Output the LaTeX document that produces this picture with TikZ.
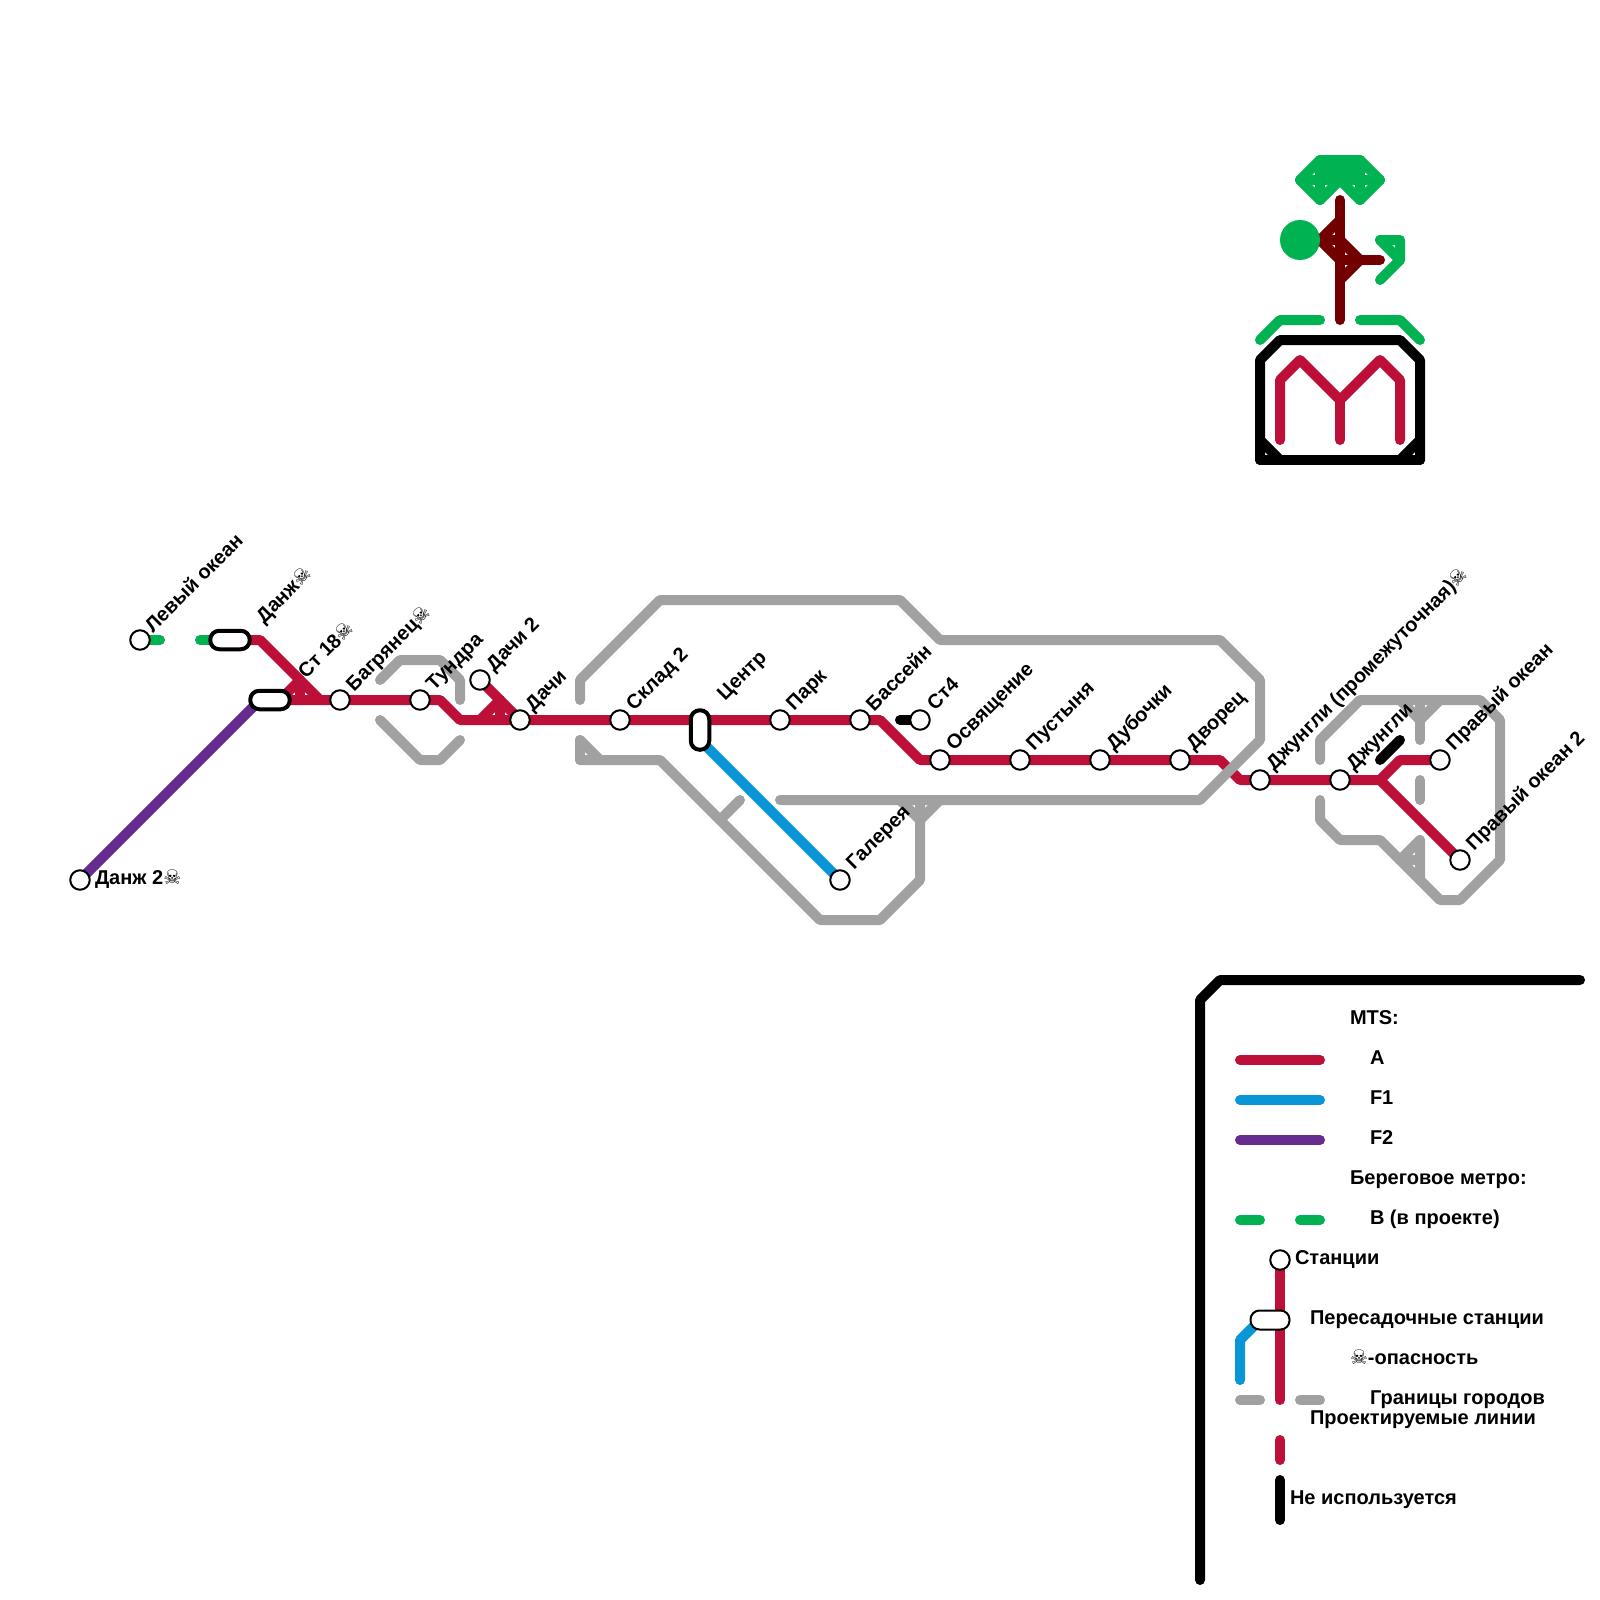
\documentclass[tikz,border=0pt]{standalone}
\usepackage{fontspec}
\setmainfont{Liberation Sans}
\newfontfamily\skullfont{DejaVu Sans}
\newcommand{\skl}{{\skullfont\mdseries ☠}}
\definecolor{lnA}{HTML}{BD1038}
\definecolor{lnF}{HTML}{0896D7}
\definecolor{lnP}{HTML}{662C90}
\definecolor{lnG}{HTML}{00B251}
\definecolor{lnD}{HTML}{730000}
\definecolor{lnB}{HTML}{A1A1A1}
\tikzset{
  every node/.style={font=\fontsize{20}{22}\selectfont\bfseries},
  mline/.style={line width=10pt,line cap=round,line join=round},
  lA/.style={mline,draw=lnA},
  lF/.style={mline,draw=lnF},
  lP/.style={mline,draw=lnP},
  lG/.style={mline,draw=lnG},
  lD/.style={mline,draw=lnD},
  lB/.style={mline,draw=lnB},
  lK/.style={mline,draw=black},
  stn/.style={circle,draw=black,fill=white,line width=2pt,minimum size=19.5pt,inner sep=0pt,outer sep=0pt},
  pillh/.style={rectangle,draw=black,fill=white,line width=4pt,rounded corners=9pt,minimum width=39.5pt,minimum height=18.5pt,inner sep=0pt,outer sep=0pt},
  pillv/.style={rectangle,draw=black,fill=white,line width=4pt,rounded corners=9pt,minimum width=18.5pt,minimum height=39.5pt,inner sep=0pt,outer sep=0pt},
  pilll/.style={rectangle,draw=black,fill=white,line width=2pt,rounded corners=9pt,minimum width=39pt,minimum height=19pt,inner sep=0pt,outer sep=0pt},
  dlab/.style={anchor=base west,rotate=45,inner sep=0pt,outer sep=0pt},
  hlab/.style={anchor=base west,inner sep=0pt,outer sep=0pt},
}
\begin{document}
\begin{tikzpicture}[x=1pt,y=-1pt]
\useasboundingbox (0,0) rectangle (1600,1600);
% station positions
\coordinate (cLevy) at (140,640);
\coordinate (cDanj) at (230,640);
\coordinate (cSt18) at (270,700);
\coordinate (cDanj2) at (80,880);
\coordinate (cBagr) at (340,700);
\coordinate (cTund) at (420,700);
\coordinate (cDachi2) at (480,680);
\coordinate (cDachi) at (520,720);
\coordinate (cSklad) at (620,720);
\coordinate (cCentr) at (700,730);
\coordinate (cCentrB) at (700,740);
\coordinate (cPark) at (780,720);
\coordinate (cBass) at (860,720);
\coordinate (cSt4) at (920,720);
\coordinate (cOsv) at (940,760);
\coordinate (cPust) at (1020,760);
\coordinate (cDub) at (1100,760);
\coordinate (cDvor) at (1180,760);
\coordinate (cDzhP) at (1260,780);
\coordinate (cDzh) at (1340,780);
\coordinate (cPrav) at (1440,760);
\coordinate (cPrav2) at (1460,860);
\coordinate (cGal) at (840,880);
\coordinate (cLegS) at (1280,1260);
\coordinate (cLegP) at (1270,1320);
\coordinate (cSt18P) at (260,700);
\coordinate (cLegF) at (1260,1320);
% green
\draw[lG] (cLevy) -- (160,640);
\draw[lG] (200,640) -- (cDanj);
% red main
\draw[lA] (cDanj) -- (260,640) -- (320,700);
\draw[lA] (cSt18) -- (cBagr) -- (cTund) -- (440,700) -- (460,720) -- (cDachi) -- (cSklad) -- (cPark) -- (cBass) -- (880,720) -- (920,760) -- (cOsv) -- (cPust) -- (cDub) -- (cDvor) -- (1220,760) -- (1240,780) -- (cDzhP) -- (cDzh) -- (1380,780) -- (1400,760) -- (cPrav);
\draw[lA] (1380,780) -- (cPrav2);
\draw[lA] (cDachi2) -- (cDachi);
\draw[lA] (480,720) -- (500,700);
\draw[lA] (500,700) -- (500,720);
\draw[lA] (280,700) -- (300,680);
\draw[lA] (300,680) -- (300,700);
% blue, purple
\draw[lF] (cCentrB) -- (cGal);
\draw[lP] (cDanj2) -- (cSt18P);
% grey borders
\draw[lB] (380,680) -- (400,660) -- (440,660) -- (460,680) -- (460,700);
\draw[lB] (380,720) -- (420,760) -- (440,760) -- (460,740);
\draw[lB] (580,700) -- (580,680) -- (660,600) -- (900,600) -- (940,640) -- (1220,640) -- (1260,680) -- (1260,740) -- (1200,800) -- (780,800);
\draw[lB] (580,740) -- (580,760);
\draw[lB] (580,740) -- (600,760);
\draw[lB] (580,760) -- (660,760) -- (820,920) -- (880,920) -- (920,880) -- (920,800);
\draw[lB] (720,820) -- (740,800);
\draw[lB] (900,800) -- (920,820) -- (940,800);
\draw[lB] (1320,760) -- (1320,740) -- (1360,700) -- (1480,700) -- (1500,720) -- (1500,860) -- (1460,900) -- (1440,900) -- (1380,840) -- (1340,840) -- (1320,820) -- (1320,800);
\draw[lB] (1400,860) -- (1420,840) -- (1420,880);
\draw[lB] (1400,860) -- (1420,860);
\draw[lB] (1400,700) -- (1420,720) -- (1440,700);
\draw[lB] (1420,700) -- (1420,740);
\draw[lB] (1420,780) -- (1420,800);
% unused
\draw[lK] (1380,760) -- (1400,740);
\draw[lK] (900,720) -- (cSt4);
% emblem
\draw[lG] (1260,340) -- (1280,320) -- (1320,320);
\draw[lG] (1360,320) -- (1400,320) -- (1420,340);
\draw[lK] (1260,460) -- (1260,360) -- (1280,340) -- (1400,340) -- (1420,360) -- (1420,460);
\draw[lK] (1260,460) -- (1420,460);
\draw[lK] (1260,440) -- (1280,460);
\draw[lK] (1420,440) -- (1400,460);
\draw[lA] (1280,440) -- (1280,380) -- (1300,360) -- (1340,400) -- (1380,360) -- (1400,380) -- (1400,440);
\draw[lA] (1340,400) -- (1340,440);
% top green
\draw[lG] (1300,180) -- (1320,160);
\draw[lG] (1300,180) -- (1320,200);
\draw[lG] (1320,200) -- (1340,180);
\draw[lG] (1340,180) -- (1360,200);
\draw[lG] (1360,200) -- (1380,180);
\draw[lG] (1380,180) -- (1360,160);
\draw[lG] (1320,160) -- (1360,160);
\draw[lG] (1300,180) -- (1380,180);
\draw[lG] (1320,160) -- (1320,200);
\draw[lG] (1360,160) -- (1360,200);
\fill[lnG] (1320,160) rectangle (1360,180);
\draw[lG] (1380,280) -- (1400,260) -- (1400,240) -- (1380,240);
\draw[lG] (1380,240) -- (1400,260);
% dark red
\draw[lD] (1340,200) -- (1340,320);
\draw[lD] (1340,220) -- (1320,240);
\draw[lD] (1320,240) -- (1340,260);
\draw[lD] (1320,240) -- (1340,240);
\draw[lD] (1340,240) -- (1360,260);
\draw[lD] (1360,260) -- (1340,280);
\draw[lD] (1340,260) -- (1380,260);
\fill[lnG] (1300,240) circle (20);
% legend
\draw[lK] (1200,1580) -- (1200,1000) -- (1220,980) -- (1580,980);
\draw[lA] (1240,1060) -- (1320,1060);
\draw[lF] (1240,1100) -- (1320,1100);
\draw[lP] (1240,1140) -- (1320,1140);
\draw[lG] (1240,1220) -- (1260,1220);
\draw[lG] (1300,1220) -- (1320,1220);
\draw[lA] (cLegS) -- (1280,1400);
\draw[lF] (1240,1380) -- (1240,1340) -- (cLegF);
\draw[lB] (1240,1400) -- (1260,1400);
\draw[lB] (1300,1400) -- (1320,1400);
\draw[lA] (1280,1440) -- (1280,1460);
\draw[lK] (1280,1480) -- (1280,1520);
% stations
\node[stn] (nLevy) at (cLevy) {};
\node[pillh] (nDanj) at (cDanj) {};
\node[pillh] (nSt18) at (cSt18) {};
\node[stn] (nDanj2) at (cDanj2) {};
\node[stn] (nBagr) at (cBagr) {};
\node[stn] (nTund) at (cTund) {};
\node[stn] (nDachi2) at (cDachi2) {};
\node[stn] (nDachi) at (cDachi) {};
\node[stn] (nSklad) at (cSklad) {};
\node[pillv] (nCentr) at (cCentr) {};
\node[stn] (nPark) at (cPark) {};
\node[stn] (nBass) at (cBass) {};
\node[stn] (nSt4) at (cSt4) {};
\node[stn] (nOsv) at (cOsv) {};
\node[stn] (nPust) at (cPust) {};
\node[stn] (nDub) at (cDub) {};
\node[stn] (nDvor) at (cDvor) {};
\node[stn] (nDzhP) at (cDzhP) {};
\node[stn] (nDzh) at (cDzh) {};
\node[stn] (nPrav) at (cPrav) {};
\node[stn] (nPrav2) at (cPrav2) {};
\node[stn] (nGal) at (cGal) {};
\node[stn] (nLegS) at (cLegS) {};
\node[pilll] (nLegP) at (cLegP) {};
% labels
\node[dlab] (tLevy) at (153,633) {Левый океан};
\node[dlab] (tDanj) at (264,624) {Данж\skl};
\node[dlab] (tSt18) at (306,679) {Ст 18\skl};
\node[hlab] (tDanj2) at (95,884) {Данж 2\skl};
\node[dlab] (tBagr) at (354,692) {Багрянец\skl};
\node[dlab] (tTund) at (434,691) {Тундра};
\node[dlab] (tDachi2) at (494,672) {Дачи 2};
\node[dlab] (tDachi) at (533,712) {Дачи};
\node[dlab] (tSklad) at (634,711) {Склад 2};
\node[dlab] (tCentr) at (725,701) {Центр};
\node[dlab] (tPark) at (794,711) {Парк};
\node[dlab] (tBass) at (874,712) {Бассейн};
\node[dlab] (tSt4) at (935,711) {Ст4};
\node[dlab] (tOsv) at (954,751) {Освящение};
\node[dlab] (tPust) at (1034,751) {Пустыня};
\node[dlab] (tDub) at (1114,751) {Дубочки};
\node[dlab] (tDvor) at (1194,751) {Дворец};
\node[dlab] (tDzhP) at (1274,771) {Джунгли (промежуточная)\skl};
\node[dlab] (tDzh) at (1354,771) {Джунгли};
\node[dlab] (tPrav) at (1454,751) {Правый океан};
\node[dlab] (tPrav2) at (1474,851) {Правый океан 2};
\node[dlab] (tGal) at (854,870) {Галерея};
\node[hlab] (tMts) at (1350,1024) {MTS:};
\node[hlab] (tA) at (1370,1064) {A};
\node[hlab] (tF1) at (1370,1104) {F1};
\node[hlab] (tF2) at (1370,1144) {F2};
\node[hlab] (tBer) at (1350,1184) {Береговое метро:};
\node[hlab] (tB) at (1370,1224) {B (в проекте)};
\node[hlab] (tSt) at (1295,1264) {Станции};
\node[hlab] (tPer) at (1310,1324) {Пересадочные станции};
\node[hlab] (tOp) at (1350,1364) {\skl-опасность};
\node[hlab] (tGr) at (1370,1404) {Границы городов};
\node[hlab] (tPr) at (1310,1424) {Проектируемые линии};
\node[hlab] (tNe) at (1290,1504) {Не используется};
\end{tikzpicture}
\end{document}
